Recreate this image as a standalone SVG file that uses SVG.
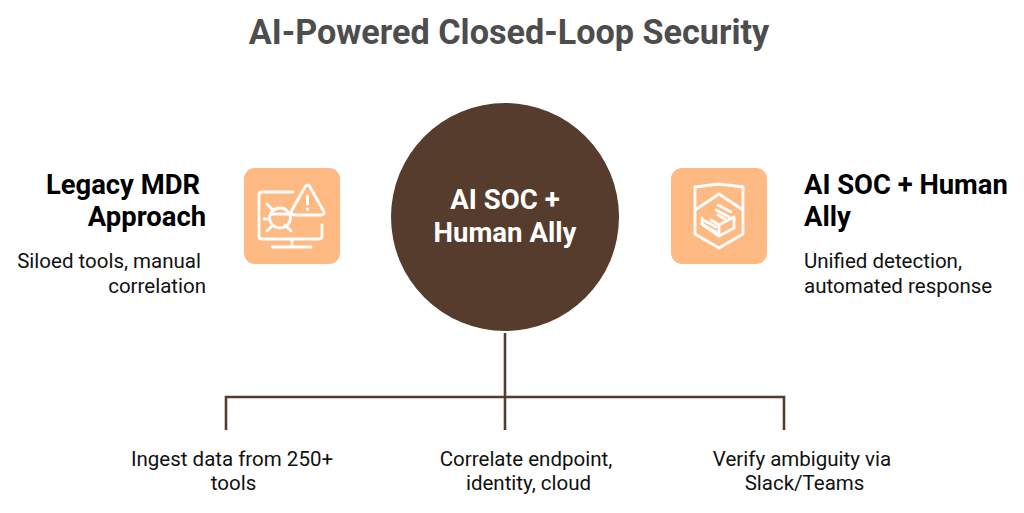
<svg xmlns="http://www.w3.org/2000/svg" width="1024" height="513" viewBox="0 0 1024 513">
<style>
text{font-family:Roboto,"Liberation Sans",sans-serif}
.t{font-size:27.4px;font-weight:700;fill:#000}
.b{font-size:20.5px;fill:#111}
.s{fill:none;stroke:#fff;stroke-width:2.8;stroke-linecap:round;stroke-linejoin:round}
.c{fill:none;stroke:#553c2c;stroke-width:2.6}
.box{fill:#ffb983}
.m{font-size:27.6px;font-weight:700;fill:#fff}
</style>
<rect width="1024" height="513" fill="#fff"/>
<text id="title" x="509" y="44" text-anchor="middle" style="font-size:34.2px;font-weight:700;fill:#4d4d4d">AI-Powered Closed-Loop Security</text>
<g id="connectors">
<path class="c" d="M505 333V430M226 430V397H784V430"/>
</g>
<g id="center">
<circle cx="505" cy="217" r="114" fill="#553c2c"/>
<text class="m" x="505" y="209" text-anchor="middle">AI SOC +</text>
<text class="m" x="505" y="242" text-anchor="middle">Human Ally</text>
</g>
<g id="legacy">
<rect class="box" x="244" y="168" width="96" height="96" rx="11"/>
<path class="s" d="M293 192H262Q259 192 259 195V236Q259 239 262 239H319Q322 239 322 236V225M292 239V247M272 247H311"/>
<path class="s" d="M305 187L292 210Q290 215 295 215H321Q326 215 323 210L310 187Q307.500 183 305 187Z"/>
<path class="s" d="M307.500 196V204M307.500 209V210"/>
<ellipse class="s" cx="280" cy="218" rx="10.500" ry="10"/>
<path class="s" d="M272 214H288M267 204L273 210M264 219H269M267 231L273 225M291 231L285 225"/>
<text class="t" x="200" y="194" text-anchor="end">Legacy MDR</text>
<text class="t" x="206" y="226" text-anchor="end">Approach</text>
<text class="b" x="201" y="268" text-anchor="end">Siloed tools, manual</text>
<text class="b" x="206" y="293" text-anchor="end">correlation</text>
</g>
<g id="aisoc">
<rect class="box" x="671" y="168" width="96" height="96" rx="11"/>
<path class="s" d="M695 187L719 184L743 187V234L719 248L695 234Z"/>
<path class="s" d="M695 210L719 194L743 210"/>
<path class="s" d="M702 218V224L719 236L734 228V217L719 225L711 220M719 225V236"/>
<path class="s" d="M718 205L731 212M716 210L729 217M718 215L725 219M703 220L716 227M703 225L716 232"/>
<text class="t" x="804" y="194">AI SOC + Human</text>
<text class="t" x="804" y="226">Ally</text>
<text class="b" x="804" y="268">Unified detection,</text>
<text class="b" x="804" y="293">automated response</text>
</g>
<g id="step1">
<text class="b" x="232" y="465.500" text-anchor="middle">Ingest data from 250+</text>
<text class="b" x="233.500" y="490" text-anchor="middle">tools</text>
</g>
<g id="step2">
<text class="b" x="526" y="465.500" text-anchor="middle">Correlate endpoint,</text>
<text class="b" x="528.500" y="490" text-anchor="middle">identity, cloud</text>
</g>
<g id="step3">
<text class="b" x="802" y="465.500" text-anchor="middle">Verify ambiguity via</text>
<text class="b" x="804.500" y="490" text-anchor="middle">Slack/Teams</text>
</g>
</svg>
